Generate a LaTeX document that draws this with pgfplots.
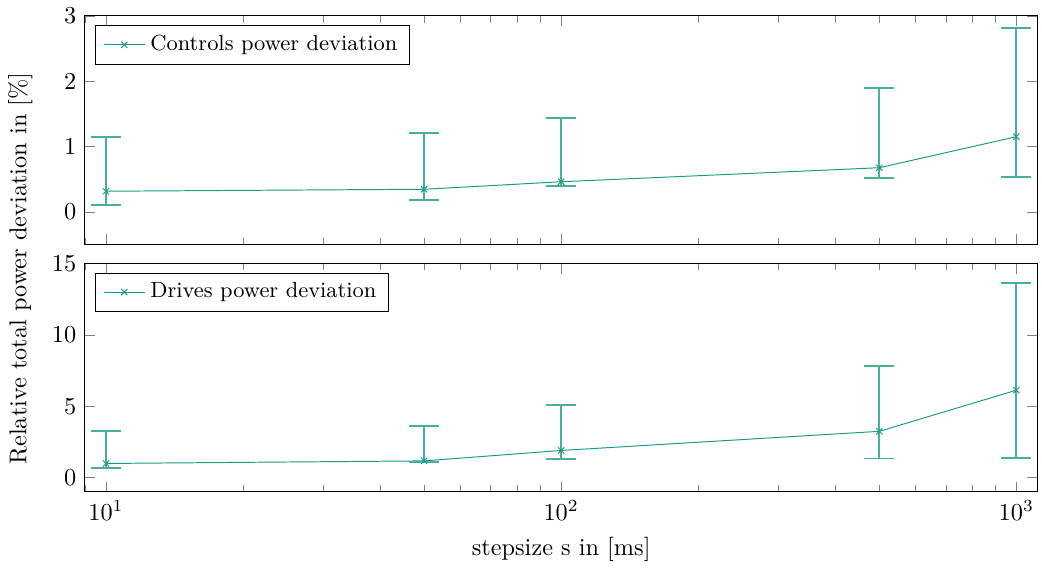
\documentclass[border=0pt]{standalone}
\usepackage{pgfplots}
\pgfplotsset{compat=1.18}
\usepackage{pgfplotstable}
\definecolor{teal1}{HTML}{1A9A85}
\pgfplotstableread{
x y ep em
10 0.315 0.835 0.205
50 0.345 0.865 0.165
100 0.46 0.98 0.06
500 0.675 1.215 0.155
1000 1.15 1.67 0.62
}\controls
\pgfplotstableread{
x y ep em
10 0.99 2.25 0.29
50 1.17 2.46 0.09
100 1.90 3.20 0.61
500 3.24 4.58 1.90
1000 6.12 7.48 4.74
}\drives
\begin{document}
\begin{tikzpicture}
\pgfplotsset{
  every axis/.append style={
    scale only axis, width=392pt, height=94pt,
    xmode=log, xmin=8.98, xmax=1114,
    log basis x=10,
    tick style={gray},
    legend style={at={(0.011,0.96)}, anchor=north west, legend cell align=left, font=\small},
    ticklabel style={font=\normalsize},
    label style={font=\normalsize},
  },
}
\begin{axis}[name=top, ymin=-0.5, ymax=3, ytick={0,1,2,3}, xticklabels={}]
\addplot+[teal1, mark=x, mark size=1.8pt, mark options={solid, teal1},
  error bars/.cd, y dir=both, y explicit,
  error bar style={line width=0.75pt, teal1!80},
  error mark options={rotate=90, mark size=6.2pt, line width=0.75pt, teal1!80}]
  table[x=x, y=y, y error plus=ep, y error minus=em] {\controls};
\addlegendentry{Controls power deviation}
\end{axis}
\begin{axis}[name=bot, at={(top.south west)}, anchor=north west, yshift=-7.8pt,
  ymin=-1, ymax=15, ytick={0,5,10,15},
  xlabel={stepsize s in [ms]}]
\addplot+[teal1, mark=x, mark size=1.8pt, mark options={solid, teal1},
  error bars/.cd, y dir=both, y explicit,
  error bar style={line width=0.75pt, teal1!80},
  error mark options={rotate=90, mark size=6.2pt, line width=0.75pt, teal1!80}]
  table[x=x, y=y, y error plus=ep, y error minus=em] {\drives};
\addlegendentry{Drives power deviation}
\end{axis}
\path (top.north west) -- (bot.south west) node[midway, rotate=90, xshift=-6pt, yshift=18pt, anchor=south, font=\normalsize] {Relative total power deviation in [\%]};
\end{tikzpicture}
\end{document}
